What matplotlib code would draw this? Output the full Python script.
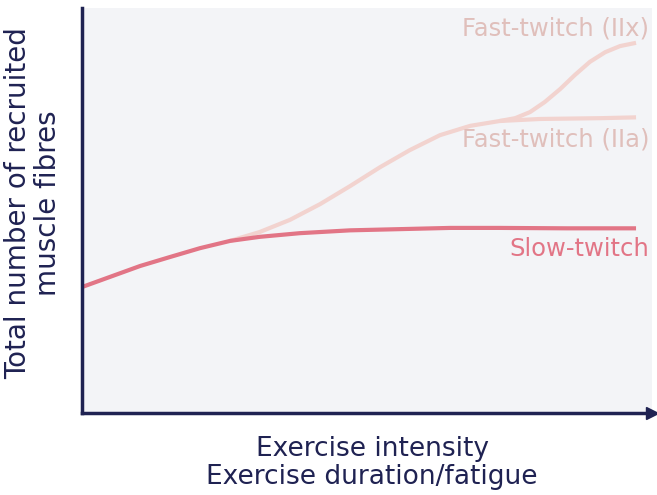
import matplotlib.pyplot as plt

plt.rcParams['font.family'] = ['DejaVu Sans']

# Curves (x: effort 0-100, y: recruited fibres 0-100)
slow_x = [0, 4.9, 10.2, 15.4, 20.7, 26.0, 31.2, 38.2, 47.0, 55.8, 64.6, 73.3, 85, 97.2]
slow_y = [31.1, 33.6, 36.3, 38.5, 40.7, 42.5, 43.5, 44.4, 45.1, 45.4, 45.7, 45.7, 45.6, 45.6]

iia_x = [26.0, 31.2, 36.5, 41.8, 47.0, 52.3, 57.5, 62.8, 68.1, 73.3, 80.4, 91.0, 97.2]
iia_y = [42.5, 44.7, 47.7, 51.6, 56.0, 60.7, 64.9, 68.6, 70.9, 72.1, 72.6, 72.8, 73.0]

iix_x = [73.3, 76.0, 78.6, 81.2, 83.9, 86.5, 89.1, 91.8, 94.4, 97.2]
iix_y = [72.1, 72.8, 74.3, 76.8, 80.0, 83.5, 86.7, 89.1, 90.6, 91.4]

labels = ['Slow-twitch', 'Fast-twitch (IIa)', 'Fast-twitch (IIx)']

navy = '#1f2252'
slow_col = '#e27586'
fast_col = '#f2d3cf'
fast_text = '#e0bfbb'

fig = plt.figure(figsize=(6.57, 4.95), dpi=100)
ax = fig.add_axes([82 / 657, 82 / 495, 570 / 657, 405 / 495])
ax.set_facecolor('#f3f4f7')

kw = dict(lw=3, solid_capstyle='butt', solid_joinstyle='round')
ax.plot(iix_x, iix_y, color=fast_col, **kw)
ax.plot(iia_x, iia_y, color=fast_col, **kw)
ax.plot(slow_x, slow_y, color=slow_col, **kw)

ax.set_xlim(0, 100)
ax.set_ylim(0, 100)
ax.set_xticks([])
ax.set_yticks([])
for s in ['top', 'right']:
    ax.spines[s].set_visible(False)
for s in ['left', 'bottom']:
    ax.spines[s].set_color(navy)
    ax.spines[s].set_linewidth(2.5)
ax.plot(1.0, 0, marker='>', color=navy, markersize=8, transform=ax.transAxes, clip_on=False)

ax.text(99.5, 40.6, labels[0], color=slow_col, fontsize=17.5, ha='right', va='center')
ax.text(99.5, 67.6, labels[1], color=fast_text, fontsize=17.5, ha='right', va='center')
ax.text(99.5, 95.0, labels[2], color=fast_text, fontsize=17.5, ha='right', va='center')

fig.text(372 / 657, 32 / 495, 'Exercise intensity\nExercise duration/fatigue', color=navy,
         fontsize=19, ha='center', va='center', linespacing=1.1)
fig.text(33 / 657, 1 - 203 / 495, 'Total number of recruited\nmuscle fibres', color=navy,
         fontsize=20, ha='center', va='center', rotation=90, linespacing=1.05)

fig.savefig('out.png', dpi=100)
